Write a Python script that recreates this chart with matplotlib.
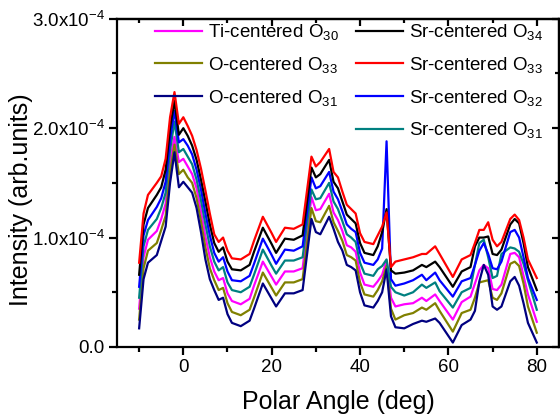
import matplotlib
matplotlib.use("Agg")
import matplotlib.pyplot as plt
import numpy as np
from matplotlib.ticker import MultipleLocator, FixedLocator

plt.rcParams['font.family'] = ['Liberation Sans', 'DejaVu Sans']
plt.rcParams['mathtext.default'] = 'regular'

# polar angle (deg)
angle = [-10, -9, -8, -6, -5, -4, -3, -2, -1, 0, 1, 2, 3, 4, 5, 6, 7, 8, 9, 10, 11,
         13, 15, 16, 18, 20, 21, 23, 25, 27,
         29, 30, 31, 33, 34, 35, 36, 37, 38, 39, 40, 41,
         43, 44, 45, 46, 47, 48,
         50, 52, 54, 55, 57, 58,
         61, 63, 65, 66, 67, 68, 69, 70, 71, 72,
         74, 75, 76, 77, 78, 80]

# intensities in units of 1e-4
sr_o33 = [0.77, 1.22, 1.39, 1.50, 1.56, 1.72, 2.10, 2.33, 2.04, 2.10, 2.02, 1.93, 1.80, 1.63, 1.43, 1.22, 1.03, 0.96, 1.00, 0.88, 0.81,
          0.80, 0.85, 0.97, 1.19, 1.04, 0.96, 1.09, 1.08, 1.12,
          1.74, 1.65, 1.69, 1.81, 1.60, 1.55, 1.42, 1.30, 1.26, 1.22, 1.04, 0.96,
          0.94, 1.02, 1.10, 1.23, 0.73, 0.78,
          0.80, 0.82, 0.85, 0.85, 0.92, 0.85,
          0.64, 0.80, 0.84, 0.95, 1.07, 1.07, 1.14, 0.98, 0.92, 0.96,
          1.17, 1.21, 1.16, 1.00, 0.80, 0.63]
sr_o34 = [0.66, 1.12, 1.27, 1.39, 1.46, 1.62, 2.00, 2.25, 1.94, 2.00, 1.93, 1.84, 1.71, 1.53, 1.33, 1.12, 0.95, 0.87, 0.91, 0.78, 0.71,
          0.70, 0.75, 0.87, 1.09, 0.94, 0.86, 0.99, 0.98, 1.02,
          1.64, 1.55, 1.58, 1.71, 1.51, 1.45, 1.33, 1.21, 1.17, 1.13, 0.95, 0.86,
          0.84, 0.92, 1.05, 1.26, 0.70, 0.67,
          0.68, 0.70, 0.75, 0.73, 0.78, 0.73,
          0.55, 0.69, 0.73, 0.92, 1.00, 1.00, 1.01, 0.85, 0.84, 0.89,
          1.12, 1.17, 1.13, 0.95, 0.73, 0.52]
sr_o32 = [0.55, 1.02, 1.16, 1.28, 1.36, 1.51, 1.90, 2.16, 1.87, 1.90, 1.84, 1.76, 1.62, 1.44, 1.22, 1.02, 0.86, 0.78, 0.82, 0.69, 0.61,
          0.60, 0.65, 0.76, 0.99, 0.84, 0.76, 0.89, 0.88, 0.92,
          1.55, 1.45, 1.47, 1.60, 1.42, 1.35, 1.24, 1.12, 1.08, 1.05, 0.86, 0.77,
          0.75, 0.80, 0.90, 1.88, 0.62, 0.56,
          0.58, 0.61, 0.66, 0.61, 0.68, 0.61,
          0.46, 0.60, 0.63, 0.75, 0.88, 0.95, 0.85, 0.72, 0.71, 0.78,
          1.05, 1.07, 1.00, 0.82, 0.63, 0.43]
sr_o31 = [0.45, 0.92, 1.07, 1.17, 1.27, 1.41, 1.80, 2.06, 1.78, 1.81, 1.74, 1.67, 1.53, 1.34, 1.12, 0.92, 0.78, 0.70, 0.73, 0.59, 0.52,
          0.50, 0.55, 0.66, 0.89, 0.74, 0.67, 0.79, 0.79, 0.82,
          1.44, 1.35, 1.36, 1.50, 1.33, 1.26, 1.15, 1.03, 1.00, 0.96, 0.77, 0.67,
          0.65, 0.71, 0.74, 0.80, 0.55, 0.50,
          0.47, 0.50, 0.57, 0.54, 0.59, 0.51,
          0.36, 0.50, 0.54, 0.75, 0.95, 0.98, 0.82, 0.63, 0.65, 0.85,
          0.91, 0.90, 0.87, 0.76, 0.61, 0.34]
ti_o30 = [0.35, 0.82, 0.98, 1.06, 1.17, 1.31, 1.70, 1.92, 1.69, 1.72, 1.65, 1.58, 1.45, 1.24, 1.01, 0.82, 0.69, 0.61, 0.63, 0.49, 0.42,
          0.39, 0.44, 0.56, 0.78, 0.64, 0.57, 0.69, 0.69, 0.72,
          1.37, 1.25, 1.26, 1.40, 1.23, 1.16, 1.06, 0.93, 0.91, 0.87, 0.68, 0.57,
          0.55, 0.60, 0.66, 0.79, 0.45, 0.37,
          0.39, 0.40, 0.45, 0.42, 0.48, 0.42,
          0.25, 0.41, 0.46, 0.58, 0.70, 0.75, 0.72, 0.53, 0.52, 0.57,
          0.85, 0.86, 0.82, 0.65, 0.48, 0.23]
o_o33 = [0.25, 0.72, 0.88, 0.95, 1.07, 1.20, 1.60, 1.85, 1.58, 1.62, 1.55, 1.50, 1.36, 1.15, 0.91, 0.72, 0.61, 0.52, 0.54, 0.40, 0.32,
         0.29, 0.34, 0.45, 0.68, 0.54, 0.47, 0.59, 0.59, 0.62,
         1.27, 1.15, 1.14, 1.29, 1.14, 1.06, 0.97, 0.84, 0.82, 0.79, 0.59, 0.48,
         0.46, 0.52, 0.60, 0.74, 0.35, 0.25,
         0.29, 0.31, 0.36, 0.34, 0.40, 0.33,
         0.14, 0.31, 0.34, 0.45, 0.59, 0.60, 0.61, 0.45, 0.43, 0.49,
         0.76, 0.78, 0.74, 0.58, 0.37, 0.13]
o_o31 = [0.17, 0.62, 0.77, 0.84, 0.97, 1.10, 1.50, 1.78, 1.46, 1.51, 1.46, 1.41, 1.27, 1.05, 0.80, 0.62, 0.52, 0.43, 0.45, 0.30, 0.22,
         0.19, 0.24, 0.35, 0.58, 0.44, 0.37, 0.49, 0.49, 0.52,
         1.17, 1.05, 1.03, 1.19, 1.08, 0.96, 0.88, 0.75, 0.73, 0.70, 0.50, 0.38,
         0.36, 0.42, 0.50, 0.71, 0.28, 0.18,
         0.17, 0.21, 0.24, 0.23, 0.26, 0.22,
         0.04, 0.20, 0.25, 0.33, 0.60, 0.75, 0.66, 0.37, 0.34, 0.37,
         0.60, 0.64, 0.56, 0.40, 0.22, 0.04]

left_labels = ['Ti-centered O$_{30}$', 'O-centered O$_{33}$', 'O-centered O$_{31}$']
right_labels = ['Sr-centered O$_{34}$', 'Sr-centered O$_{33}$', 'Sr-centered O$_{32}$', 'Sr-centered O$_{31}$']
yticks = [0, 1e-4, 2e-4, 3e-4]
ytick_labels = ['0.0', '1.0x10$^{-4}$', '2.0x10$^{-4}$', '3.0x10$^{-4}$']

x = np.array(angle)
s = 1e-4

fig = plt.figure(figsize=(5.6, 4.18), dpi=100)
ax = fig.add_axes([0.209, 0.170, 0.789, 0.785])

lw = 1.6
l_ti, = ax.plot(x, np.array(ti_o30) * s, color='#FF00FF', lw=lw)
l_o33, = ax.plot(x, np.array(o_o33) * s, color='#808000', lw=lw)
l_o31, = ax.plot(x, np.array(o_o31) * s, color='#000080', lw=lw)
l_sr31, = ax.plot(x, np.array(sr_o31) * s, color='#008080', lw=lw)
l_sr32, = ax.plot(x, np.array(sr_o32) * s, color='#0000FF', lw=lw)
l_sr34, = ax.plot(x, np.array(sr_o34) * s, color='black', lw=lw)
l_sr33, = ax.plot(x, np.array(sr_o33) * s, color='#FF0000', lw=lw)

ax.set_xlim(-15, 85)
ax.set_ylim(0, 3e-4)
ax.xaxis.set_major_locator(FixedLocator([0, 20, 40, 60, 80]))
ax.xaxis.set_minor_locator(MultipleLocator(10))
ax.set_yticks(yticks)
ax.set_yticklabels(ytick_labels)
ax.yaxis.set_minor_locator(MultipleLocator(0.5e-4))

for sp in ax.spines.values():
    sp.set_linewidth(1.6)
ax.tick_params(which='both', direction='out', width=1.6, labelsize=13.5, pad=3)
ax.tick_params(which='major', length=6)
ax.tick_params(which='minor', length=3.5)
# mirrored ticks on top/right, pointing inward
ax2 = ax.secondary_xaxis('top')
ax2.xaxis.set_major_locator(FixedLocator([0, 20, 40, 60, 80]))
ax2.xaxis.set_minor_locator(MultipleLocator(10))
ax2.tick_params(which='both', direction='in', width=1.6, labeltop=False)
ax2.tick_params(which='major', length=5)
ax2.tick_params(which='minor', length=3)
ax3 = ax.secondary_yaxis('right')
ax3.set_yticks(yticks)
ax3.yaxis.set_minor_locator(MultipleLocator(0.5e-4))
ax3.tick_params(which='both', direction='in', width=1.6, labelright=False)
ax3.tick_params(which='major', length=5)
ax3.tick_params(which='minor', length=3)
for a in (ax2, ax3):
    for sp in a.spines.values():
        sp.set_linewidth(1.6)

ax.set_xlabel('Polar Angle (deg)', fontsize=18, labelpad=10)
ax.set_ylabel('Intensity (arb.units)', fontsize=18)
ax.yaxis.set_label_coords(-0.19, 0.45)

leg1 = ax.legend([l_ti, l_o33, l_o31], left_labels, loc='upper left',
                 bbox_to_anchor=(0.086, 0.99), frameon=False, fontsize=13.5,
                 handlelength=2.5, handletextpad=0.3, labelspacing=0.68,
                 borderpad=0, borderaxespad=0)
ax.add_artist(leg1)
ax.legend([l_sr34, l_sr33, l_sr32, l_sr31], right_labels, loc='upper left',
          bbox_to_anchor=(0.541, 0.99), frameon=False, fontsize=13.5,
          handlelength=2.5, handletextpad=0.3, labelspacing=0.68,
          borderpad=0, borderaxespad=0)

fig.savefig('out.png', dpi=100)
